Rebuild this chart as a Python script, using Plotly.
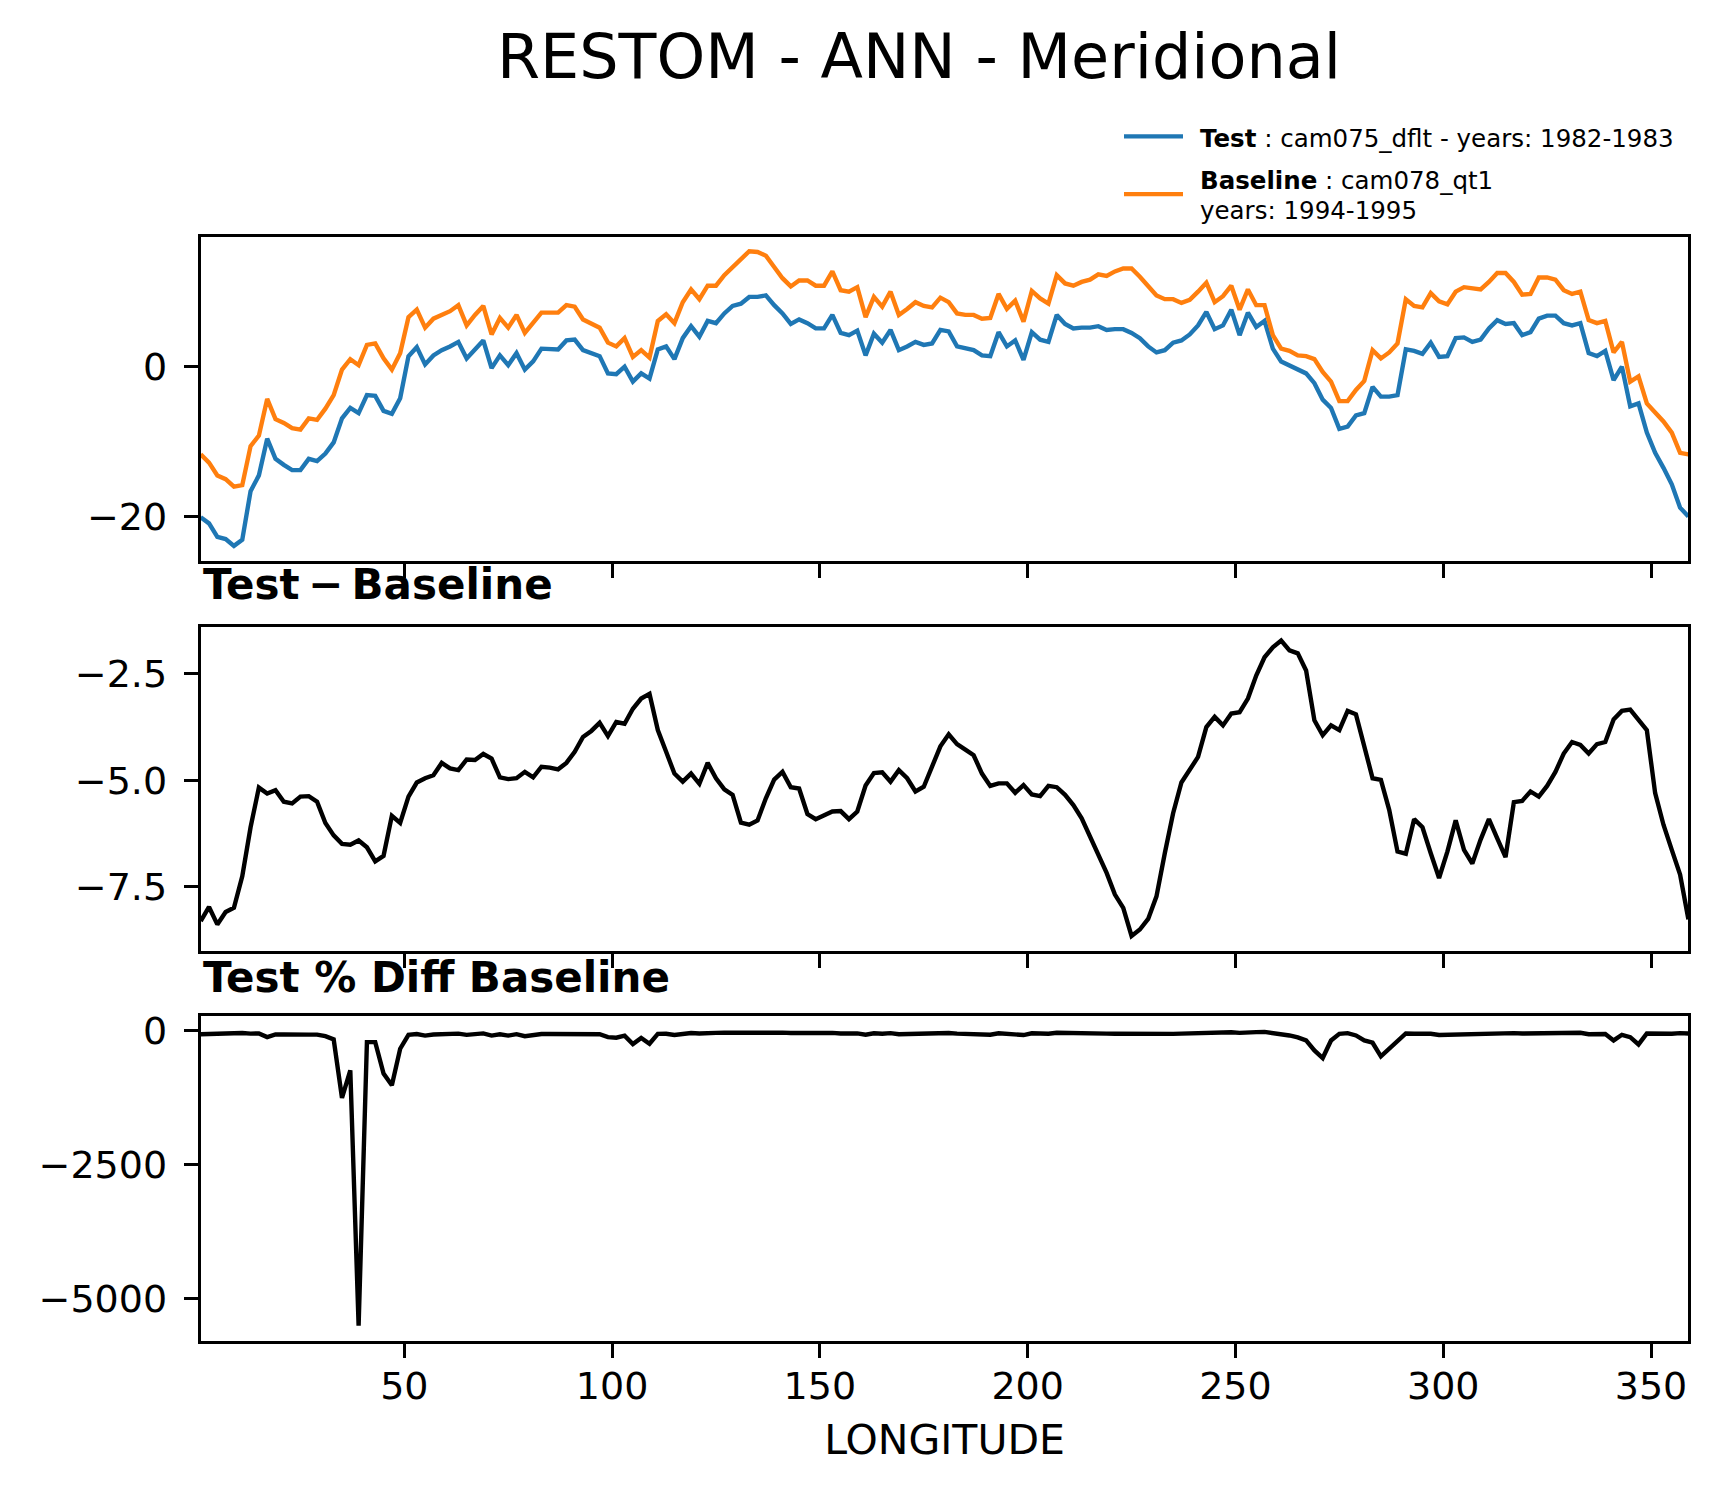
import plotly.graph_objects as go

# ---------------- data ----------------
lon = [1, 3, 5, 7, 9, 11, 13, 15, 17, 19, 21, 23, 25, 27, 29, 31, 33, 35, 37, 39,
       41, 43, 45, 47, 49, 51, 53, 55, 57, 59, 61, 63, 65, 67, 69, 71, 73, 75, 77, 79,
       81, 83, 85, 87, 89, 91, 93, 95, 97, 99, 101, 103, 105, 107, 109, 111, 113, 115, 117, 119,
       121, 123, 125, 127, 129, 131, 133, 135, 137, 139, 141, 143, 145, 147, 149, 151, 153, 155, 157, 159,
       161, 163, 165, 167, 169, 171, 173, 175, 177, 179, 181, 183, 185, 187, 189, 191, 193, 195, 197, 199,
       201, 203, 205, 207, 209, 211, 213, 215, 217, 219, 221, 223, 225, 227, 229, 231, 233, 235, 237, 239,
       241, 243, 245, 247, 249, 251, 253, 255, 257, 259, 261, 263, 265, 267, 269, 271, 273, 275, 277, 279,
       281, 283, 285, 287, 289, 291, 293, 295, 297, 299, 301, 303, 305, 307, 309, 311, 313, 315, 317, 319,
       321, 323, 325, 327, 329, 331, 333, 335, 337, 339, 341, 343, 345, 347, 349, 351, 353, 355, 357, 359]

test_vals = [
    -20.1, -20.9, -22.7, -23.0, -23.9, -23.1, -16.6, -14.5, -9.6, -12.3,
    -13.1, -13.8, -13.8, -12.3, -12.6, -11.6, -10.1, -6.9, -5.5, -6.2,
    -3.8, -3.9, -5.9, -6.3, -4.2, 1.4, 2.6, 0.3, 1.5, 2.2,
    2.7, 3.3, 1.1, 2.3, 3.5, -0.2, 1.5, 0.2, 1.8, -0.4,
    0.7, 2.4, 2.3, 2.3, 3.5, 3.6, 2.2, 1.8, 1.4, -0.9,
    -1.0, 0.0, -2.0, -0.9, -1.6, 2.3, 2.7, 1.0, 3.8, 5.4,
    4.0,
    6.1, 5.8, 7.1, 8.1, 8.4, 9.3, 9.3, 9.5, 8.2, 7.1,
    5.7, 6.3, 5.8, 5.1, 5.1, 6.9, 4.5, 4.2, 4.8, 1.5,
    4.4, 3.2, 4.9, 2.2, 2.7, 3.3, 2.9, 3.1, 4.9, 4.7,
    2.7, 2.5, 2.2, 1.5, 1.4, 4.6, 2.7, 3.5, 0.9, 4.6,
    3.6, 3.3, 6.9, 5.7, 5.1, 5.2, 5.2, 5.4, 4.9, 5.0,
    5.0, 4.5, 3.8, 2.7, 1.9, 2.2, 3.2, 3.5, 4.3, 5.5,
    7.3, 5.0, 5.5, 7.6, 4.2, 7.2, 5.3, 6.1, 2.4, 0.7,
    0.2, -0.4, -0.9, -2.2, -4.4, -5.5, -8.3, -8.0, -6.5, -6.2,
    -2.7, -4.0, -4.0, -3.8, 2.3, 2.1, 1.7, 3.2, 1.3, 1.4,
    3.8, 3.9, 3.3, 3.6, 5.1, 6.2, 5.7, 5.8, 4.2, 4.6,
    6.4, 6.8, 6.8, 5.8, 5.5, 5.8, 1.8, 1.4, 2.1, -1.8,
    0.0, -5.3, -4.9, -8.8, -11.5, -13.5, -15.7, -18.8, -20.0]

baseline_vals = [
    -11.7, -12.8, -14.5, -15.0, -16.0, -15.8, -10.6, -9.2, -4.3, -7.0,
    -7.5, -8.2, -8.4, -6.9, -7.1, -5.6, -3.8, -0.4, 1.0, 0.2,
    2.9, 3.1, 1.1, -0.4, 1.8, 6.6, 7.6, 5.2, 6.4, 6.9,
    7.4, 8.2, 5.5, 6.9, 8.1, 4.3, 6.5, 5.2, 6.9, 4.5,
    5.8, 7.2, 7.2, 7.2, 8.2, 8.0, 6.3, 5.8, 5.2, 3.2,
    2.7, 3.8, 1.3, 2.2, 1.2, 6.1, 7.0, 5.8, 8.6, 10.3,
    9.0,
    10.8, 10.8, 12.2, 13.3, 14.2, 15.4, 15.3, 14.8, 13.3, 11.8,
    10.7, 11.5, 11.5, 10.8, 10.8, 12.7, 10.2, 10.0, 10.6, 6.6,
    9.3, 8.0, 10.0, 6.9, 7.7, 8.6, 8.1, 7.9, 9.2, 8.6,
    7.1, 6.9, 6.9, 6.4, 6.5, 9.7, 7.7, 8.8, 6.0, 10.1,
    9.1, 8.4, 12.2, 11.1, 10.8, 11.3, 11.6, 12.3, 12.1, 12.7,
    13.1, 13.1, 12.0, 10.7, 9.5, 9.0, 9.0, 8.5, 8.9, 10.0,
    11.2, 8.6, 9.4, 10.8, 7.6, 10.3, 8.2, 8.2, 4.2, 2.4,
    2.1, 1.5, 1.4, 1.0, -0.7, -2.0, -4.6, -4.6, -3.1, -1.9,
    2.2, 1.1, 1.9, 3.1, 9.0, 8.1, 7.9, 9.8, 8.7, 8.3,
    10.0, 10.6, 10.5, 10.3, 11.3, 12.5, 12.5, 11.3, 9.6, 9.7,
    11.9, 11.9, 11.6, 10.2, 9.7, 10.0, 6.2, 5.8, 6.1, 1.9,
    3.3, -2.0, -1.3, -4.9, -6.1, -7.3, -8.8, -11.5, -11.7]

diff_vals = [
    -8.30, -7.97, -8.38, -8.09, -7.99, -7.25, -6.10, -5.17, -5.31, -5.23,
    -5.50, -5.54, -5.38, -5.37, -5.50, -6.00, -6.29, -6.49, -6.51, -6.41,
    -6.57, -6.90, -6.77, -5.83, -6.00, -5.38, -5.05, -4.95, -4.88, -4.59,
    -4.72, -4.76, -4.51, -4.52, -4.38, -4.49, -4.93, -4.97, -4.95, -4.80,
    -4.93, -4.68, -4.70, -4.74, -4.59, -4.33, -3.98, -3.84, -3.65, -3.96,
    -3.63, -3.67, -3.32, -3.08, -2.97, -3.82, -4.33, -4.84, -5.03, -4.84,
    -5.08,
    -4.59, -4.95, -5.21, -5.34, -5.99, -6.04, -5.94, -5.42, -4.98, -4.80,
    -5.16, -5.19, -5.79, -5.91, -5.83, -5.73, -5.72, -5.91, -5.73, -5.12,
    -4.83, -4.81, -5.03, -4.76, -4.95, -5.26, -5.15, -4.68, -4.20, -3.92,
    -4.15, -4.28, -4.41, -4.84, -5.13, -5.07, -5.07, -5.29, -5.11, -5.33,
    -5.37, -5.13, -5.16, -5.34, -5.58, -5.89, -6.32, -6.74, -7.17, -7.68,
    -7.99, -8.65, -8.50, -8.25, -7.72, -6.71, -5.77, -5.05, -4.76, -4.45,
    -3.75, -3.51, -3.71, -3.43, -3.40, -3.08, -2.54, -2.11, -1.88, -1.72,
    -1.95, -2.02, -2.42, -3.59, -3.94, -3.71, -3.82, -3.37, -3.45, -4.21,
    -4.95, -4.99, -5.69, -6.67, -6.72, -5.91, -6.10, -6.71, -7.29, -6.67,
    -5.94, -6.63, -6.95, -6.39, -5.91, -6.36, -6.80, -5.51, -5.48, -5.26,
    -5.38, -5.13, -4.80, -4.37, -4.10, -4.17, -4.37, -4.15, -4.10, -3.57,
    -3.37, -3.34, -3.57, -3.82, -5.30, -6.04, -6.63, -7.21, -8.26]

pct_vals = [
    -71, -65, -57, -54, -50, -46, -58, -56, -123, -75,
    -73, -68, -64, -78, -77, -107, -165, -1258, -743, -5514,
    -217, -217, -805, -1022, -341, -82, -66, -95, -76, -67,
    -64, -58, -82, -65, -54, -95, -72, -96, -69, -107,
    -85, -65, -65, -66, -56, -54, -63, -66, -70, -124,
    -134, -97, -255, -140, -248, -63, -62, -83, -58, -47,
    -57,
    -45, -45, -43, -40, -42, -40, -39, -37, -37, -40,
    -48, -45, -50, -55, -54, -45, -56, -59, -54, -78,
    -52, -60, -50, -69, -64, -61, -64, -59, -46, -46,
    -58, -62, -64, -76, -79, -52, -66, -60, -85, -53,
    -59, -61, -42, -48, -52, -52, -54, -55, -59, -61,
    -61, -66, -71, -77, -81, -75, -64, -59, -53, -45,
    -33, -41, -39, -32, -45, -30, -31, -26, -45, -74,
    -93, -130, -186, -372, -514, -186, -62, -50, -93, -186,
    -229, -483, -341, -217, -55, -60, -62, -60, -84, -80,
    -59, -63, -66, -62, -52, -51, -54, -49, -57, -54,
    -45, -43, -41, -43, -42, -42, -70, -72, -67, -186,
    -80, -124, -260, -55, -60, -62, -60, -50, -55]

x_ticks = [50, 100, 150, 200, 250, 300, 350]
x_ticktext = ["50", "100", "150", "200", "250", "300", "350"]
top_yticks = [-20, 0]
top_yticktext = ["\u221220", "0"]
mid_yticks = [-7.5, -5.0, -2.5]
mid_yticktext = ["\u22127.5", "\u22125.0", "\u22122.5"]
bot_yticks = [-5000, -2500, 0]
bot_yticktext = ["\u22125000", "\u22122500", "0"]

title_text = "RESTOM - ANN - Meridional"
test_label = "<b>Test</b> : cam075_dflt - years: 1982-1983"
base_label_1 = "<b>Baseline</b> : cam078_qt1"
base_label_2 = "years: 1994-1995"
diff_title = "<b>Test\u2009\u2212\u2009Baseline</b>"
pct_title = "<b>Test % Diff Baseline</b>"

# ---------------- layout geometry ----------------
# page body has an 8px margin: the figure div starts at (8, 8) in the window
OFF = 8
W, H = 1704, 1480
FONT = "DejaVu Sans"


def px(xp):
    return (xp - OFF) / W


def py(yp):
    return 1 - (yp - OFF) / H


def ydom(top_px, bot_px):
    return [py(bot_px), py(top_px)]


x0, x1 = px(200.7), px(1688.4)

fig = go.Figure()
fig.add_trace(go.Scatter(x=lon, y=test_vals, mode="lines", name="Test", showlegend=False,
                         line=dict(color="#1f77b4", width=4.4), xaxis="x", yaxis="y"))
fig.add_trace(go.Scatter(x=lon, y=baseline_vals, mode="lines", name="Baseline", showlegend=False,
                         line=dict(color="#ff7f0e", width=4.4), xaxis="x", yaxis="y"))
fig.add_trace(go.Scatter(x=lon, y=diff_vals, mode="lines", name="Test - Baseline", showlegend=False,
                         line=dict(color="black", width=4.4), xaxis="x2", yaxis="y2"))
fig.add_trace(go.Scatter(x=lon, y=pct_vals, mode="lines", name="Test % Diff Baseline", showlegend=False,
                         line=dict(color="black", width=4.4), xaxis="x3", yaxis="y3"))

axis_common = dict(showline=True, mirror=True, linecolor="black", linewidth=3,
                   ticks="outside", ticklen=14, tickwidth=3, tickcolor="black",
                   showgrid=False, zeroline=False,
                   tickfont=dict(family=FONT, size=38, color="black"))

xcommon = dict(axis_common, range=[1, 359], domain=[x0, x1],
               tickmode="array", tickvals=x_ticks, ticktext=x_ticktext)

legend_font = dict(family=FONT, size=24.5, color="black")
sub_font = dict(family=FONT, size=42, color="black")

fig.update_layout(
    width=W, height=H, autosize=False,
    margin=dict(l=0, r=0, t=0, b=0),
    paper_bgcolor="white", plot_bgcolor="white",
    font=dict(family=FONT, color="black"),
    showlegend=False,
    xaxis=dict(xcommon, anchor="y", showticklabels=False),
    xaxis2=dict(xcommon, anchor="y2", showticklabels=False),
    xaxis3=dict(xcommon, anchor="y3", showticklabels=True, ticklabelstandoff=-4,
                title=dict(text="LONGITUDE", font=dict(family=FONT, size=41, color="black"),
                           standoff=19)),
    yaxis=dict(axis_common, anchor="x", domain=ydom(231.3, 556.3), range=[-25.88, 17.26],
               tickmode="array", tickvals=top_yticks, ticktext=top_yticktext,
               ticklabelstandoff=9),
    yaxis2=dict(axis_common, anchor="x2", domain=ydom(623.3, 948.3), range=[-9.0, -1.41],
                tickmode="array", tickvals=mid_yticks, ticktext=mid_yticktext,
                ticklabelstandoff=9),
    yaxis3=dict(axis_common, anchor="x3", domain=ydom(1014, 1340), range=[-5793, 266],
                tickmode="array", tickvals=bot_yticks, ticktext=bot_yticktext,
                ticklabelstandoff=9),
    shapes=[
        dict(type="line", xref="paper", yref="paper", x0=px(1124), x1=px(1183),
             y0=py(130), y1=py(130), line=dict(color="#1f77b4", width=4.4)),
        dict(type="line", xref="paper", yref="paper", x0=px(1124), x1=px(1183),
             y0=py(188), y1=py(188), line=dict(color="#ff7f0e", width=4.4)),
    ],
    annotations=[
        dict(text=title_text, x=px(918.5), y=py(50), xref="paper", yref="paper",
             xanchor="center", yanchor="middle", showarrow=False,
             font=dict(family=FONT, size=62, color="black")),
        dict(text=test_label, x=px(1198), y=py(132), xref="paper", yref="paper",
             xanchor="left", yanchor="middle", showarrow=False, font=legend_font),
        dict(text=base_label_1, x=px(1198), y=py(174), xref="paper", yref="paper",
             xanchor="left", yanchor="middle", showarrow=False, font=legend_font),
        dict(text=base_label_2, x=px(1198), y=py(204), xref="paper", yref="paper",
             xanchor="left", yanchor="middle", showarrow=False, font=legend_font),
        dict(text=diff_title, x=x0, y=py(580), xref="paper", yref="paper",
             xanchor="left", yanchor="middle", showarrow=False, font=sub_font),
        dict(text=pct_title, x=x0, y=py(975), xref="paper", yref="paper",
             xanchor="left", yanchor="middle", showarrow=False, font=sub_font),
    ],
)

fig.write_html("out.html")
